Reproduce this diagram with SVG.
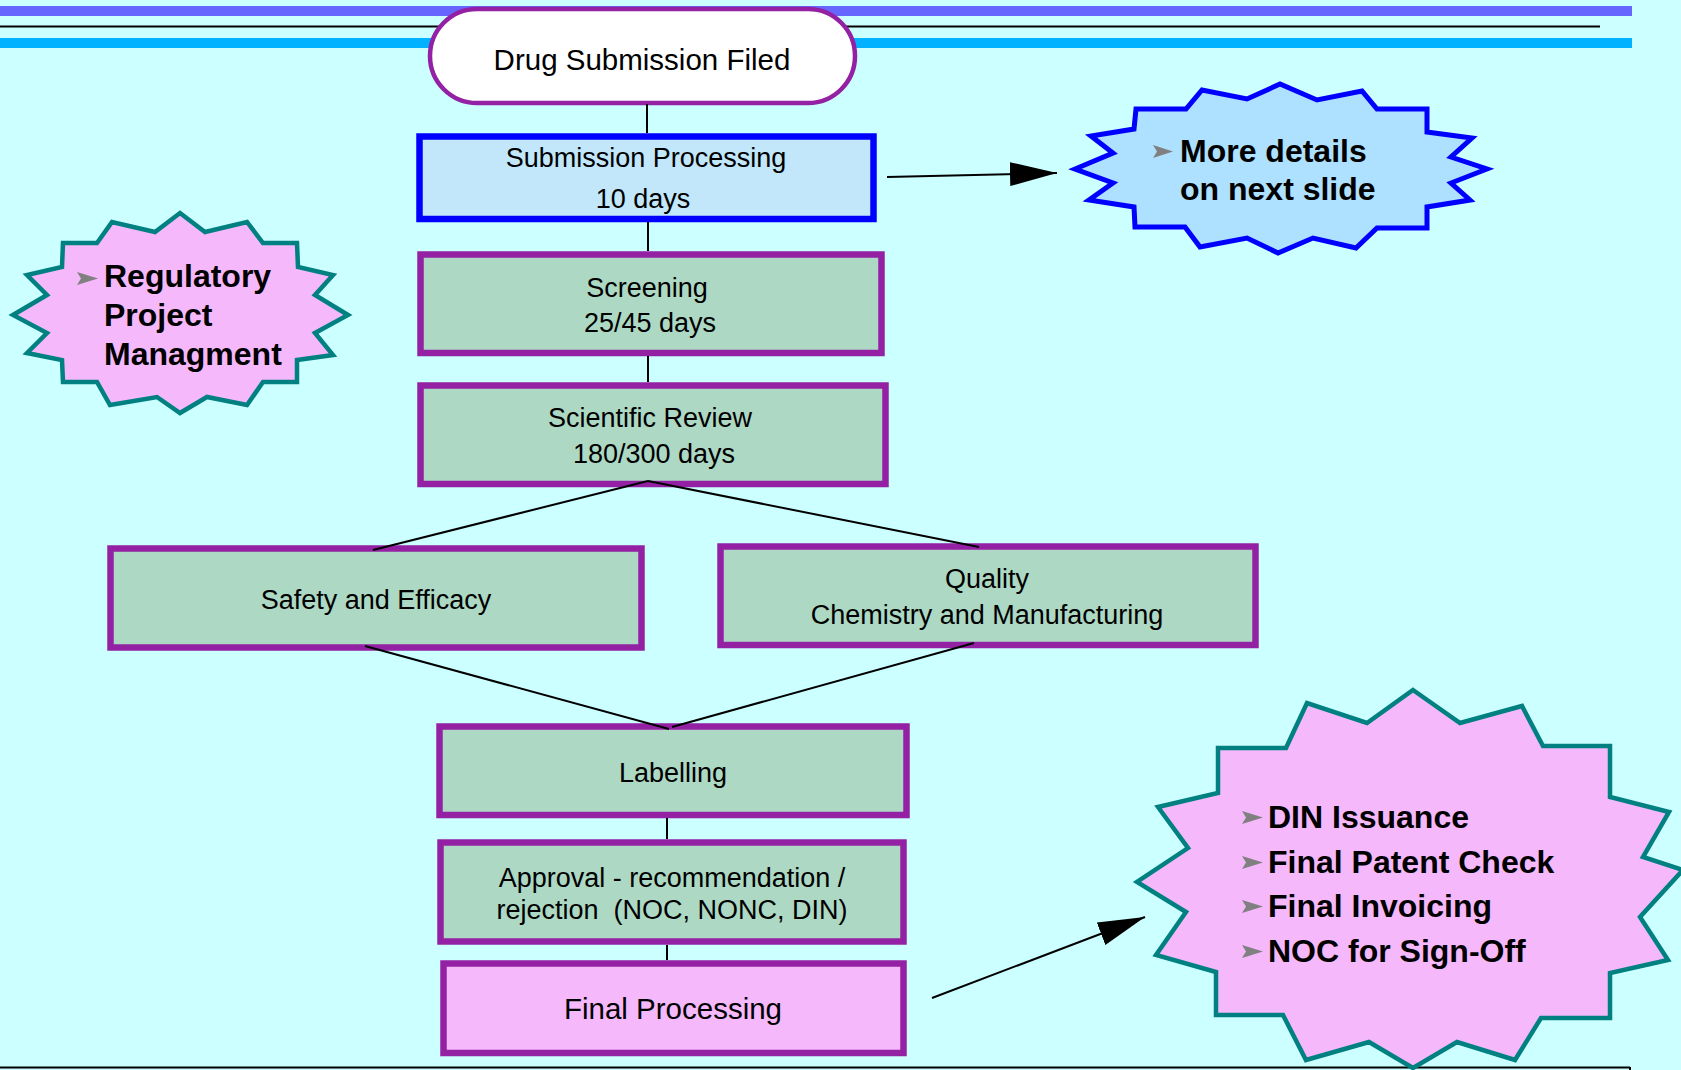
<svg xmlns="http://www.w3.org/2000/svg" width="1681" height="1070" viewBox="0 0 1681 1070">
  <defs>
    <style>
      .t { font-family: "Liberation Sans", Arial, sans-serif; fill: #000; }
      .box { font-size: 27px; text-anchor: middle; }
      .big { font-size: 29.5px; text-anchor: middle; }
      .bold { font-size: 32px; font-weight: bold; }
      .green { fill: #acd8c4; stroke: #9420a4; stroke-width: 6.5; }
      .conn { stroke: #000; stroke-width: 2; fill: none; }
      .bullet { fill: #808080; }
      .teal { fill: #f5b8fb; stroke: #008080; stroke-width: 4.5; stroke-linejoin: miter; }
    </style>
    <marker id="arrow" markerUnits="userSpaceOnUse" markerWidth="48" markerHeight="26" refX="47" refY="12" orient="auto">
      <path d="M0,0 L47,12 L0,24 z" fill="#000"/>
    </marker>
  </defs>

  <rect x="0" y="0" width="1681" height="1070" fill="#ccffff"/>

  <!-- header bands -->
  <g id="header">
    <rect x="0" y="6" width="1632" height="10" fill="#6666ff"/>
    <line x1="0" y1="26.5" x2="1600" y2="26.5" stroke="#000" stroke-width="1.8"/>
    <rect x="0" y="38" width="1632" height="10" fill="#00b2ff"/>
    <line x1="0" y1="1067.5" x2="1630" y2="1067.5" stroke="#000" stroke-width="2"/>
    <line x1="1630" y1="1067" x2="1630" y2="1070" stroke="#000" stroke-width="2"/>
  </g>

  <g id="drug-submission-filed">
    <rect x="430" y="9" width="425" height="94" rx="47" ry="47" fill="#ffffff" stroke="#9420a4" stroke-width="4.5"/>
    <text class="t big" x="642" y="70">Drug Submission Filed</text>
  </g>

  <g id="submission-processing">
    <rect x="419.5" y="136.5" width="454" height="82.5" fill="#c2e7fb" stroke="#0000ff" stroke-width="6.5"/>
    <text class="t box" x="646" y="167">Submission Processing</text>
    <text class="t box" x="643" y="208">10 days</text>
  </g>

  <g id="screening">
    <rect class="green" x="420.5" y="254.5" width="461" height="98.5"/>
    <text class="t box" x="647" y="297">Screening</text>
    <text class="t box" x="650" y="332">25/45 days</text>
  </g>

  <g id="scientific-review">
    <rect class="green" x="420.5" y="385.5" width="465" height="98.5"/>
    <text class="t box" x="650" y="427">Scientific Review</text>
    <text class="t box" x="654" y="463">180/300 days</text>
  </g>

  <g id="safety-efficacy">
    <rect class="green" x="110.5" y="548.5" width="531" height="99"/>
    <text class="t box" x="376" y="609">Safety and Efficacy</text>
  </g>

  <g id="quality">
    <rect class="green" x="720.5" y="546.5" width="535" height="98.5"/>
    <text class="t box" x="987" y="588">Quality</text>
    <text class="t box" x="987" y="624">Chemistry and Manufacturing</text>
  </g>

  <g id="labelling">
    <rect class="green" x="439.5" y="726.5" width="467" height="88.5"/>
    <text class="t box" x="673" y="782">Labelling</text>
  </g>

  <g id="approval">
    <rect class="green" x="440.5" y="842.5" width="463" height="99"/>
    <text class="t box" x="672" y="887">Approval - recommendation /</text>
    <text class="t box" x="672" y="919" xml:space="preserve">rejection  (NOC, NONC, DIN)</text>
  </g>

  <g id="final-processing">
    <rect x="443.5" y="963.5" width="460" height="89.5" fill="#f5b8fb" stroke="#9420a4" stroke-width="6.5"/>
    <text class="t big" x="673" y="1019">Final Processing</text>
  </g>

  <!-- connectors -->
  <g id="connectors">
    <line class="conn" x1="647" y1="104" x2="647" y2="133"/>
    <line class="conn" x1="648" y1="222" x2="648" y2="251"/>
    <line class="conn" x1="648" y1="356" x2="648" y2="382"/>
    <line class="conn" x1="648" y1="481" x2="373" y2="550"/>
    <line class="conn" x1="648" y1="481" x2="979" y2="547"/>
    <line class="conn" x1="365" y1="646" x2="669" y2="729"/>
    <line class="conn" x1="974" y1="643" x2="672" y2="727"/>
    <line class="conn" x1="667" y1="818" x2="667" y2="839"/>
    <line class="conn" x1="667" y1="945" x2="667" y2="960"/>
    <line class="conn" x1="887" y1="177" x2="1057" y2="173" marker-end="url(#arrow)"/>
    <line class="conn" x1="932" y1="998" x2="1145" y2="917" marker-end="url(#arrow)"/>
  </g>

  <g id="more-details">
    <polygon points="1136,109 1186,109 1202,90 1247,99 1280,84 1317,100 1362,91 1377,109 1427,109 1427,132 1472,138 1451,157 1487,169 1451,183 1470,200 1427,207 1427,228 1377,228 1356,248 1313,238 1278,253 1247,238 1200,247 1185,227 1135,227 1134,207 1089,200 1113,183 1075,169 1113,153 1091,136 1134,129" fill="#aee0ff" stroke="#0000ff" stroke-width="5" stroke-linejoin="miter"/>
    <polygon class="bullet" points="1153,145 1173,151.5 1153,158 1157,151.5"/>
    <text class="t bold" x="1180" y="162">More details</text>
    <text class="t bold" x="1180" y="200">on next slide</text>
  </g>

  <g id="regulatory-pm">
    <polygon class="teal" points="180,213 205,232 247,222 263,243 297,243 298,267 333,275 315,295 348,315 315,333 333,355 297,360 297,382 263,382 247,405 207,397 180,413 157,397 110,405 97,382 63,382 62,360 27,353 47,333 13,315 47,295 27,275 62,267 63,243 97,243 112,222 155,232"/>
    <polygon class="bullet" points="77,272 98,278.5 77,285 81,278.5"/>
    <text class="t bold" x="104" y="287">Regulatory</text>
    <text class="t bold" x="104" y="326">Project</text>
    <text class="t bold" x="104" y="365">Managment</text>
  </g>

  <g id="final-steps">
    <polygon class="teal" points="1413,690 1460,723 1522,706 1543,746 1610,746 1610,797 1669,812 1643,857 1683,870 1640,917 1668,960 1610,973 1610,1018 1541,1018 1515,1060 1457,1042 1413,1068 1369,1042 1306,1060 1283,1015 1216,1015 1216,972 1156,955 1186,912 1137,882 1188,848 1158,807 1218,793 1218,748 1286,748 1307,703 1367,723"/>
    <polygon class="bullet" points="1242,811 1263,817.5 1242,824 1246,817.5"/>
    <polygon class="bullet" points="1242,856 1263,862.5 1242,869 1246,862.5"/>
    <polygon class="bullet" points="1242,900 1263,906.5 1242,913 1246,906.5"/>
    <polygon class="bullet" points="1242,945 1263,951.5 1242,958 1246,951.5"/>
    <text class="t bold" x="1268" y="828">DIN Issuance</text>
    <text class="t bold" x="1268" y="873">Final Patent Check</text>
    <text class="t bold" x="1268" y="917">Final Invoicing</text>
    <text class="t bold" x="1268" y="962">NOC for Sign-Off</text>
  </g>
</svg>
